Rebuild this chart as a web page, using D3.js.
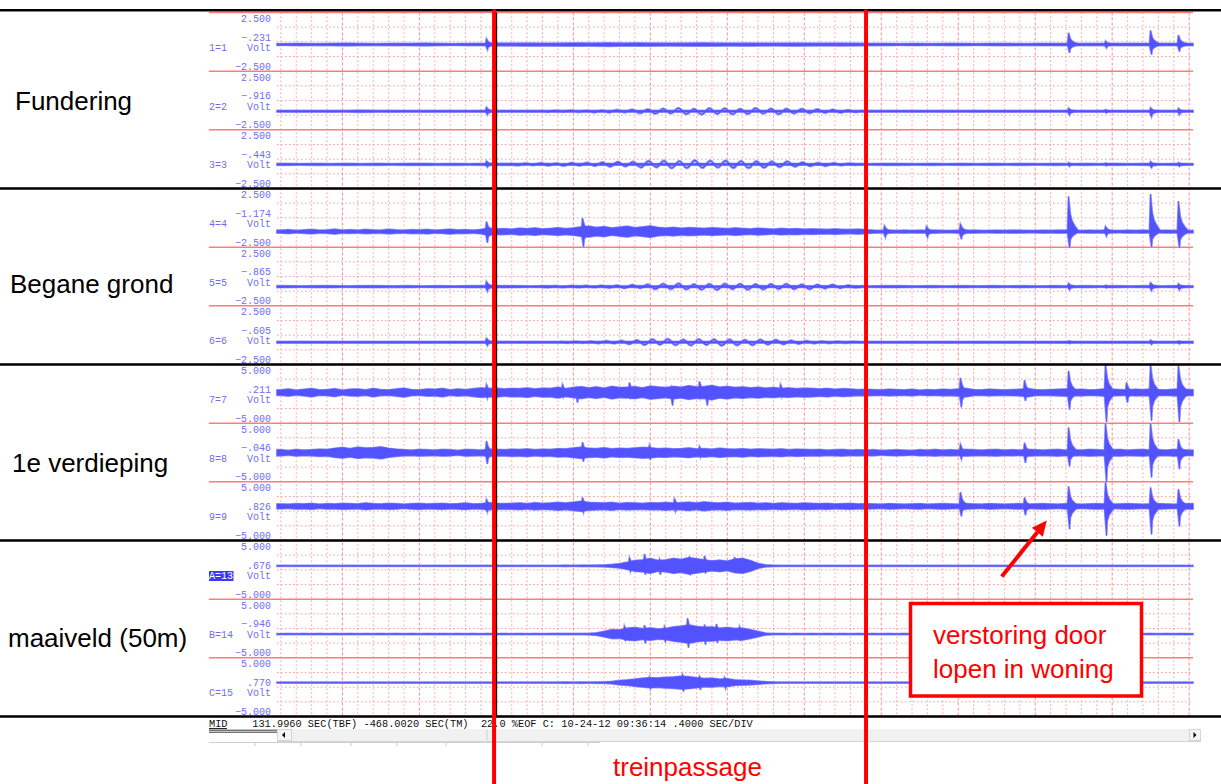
<!DOCTYPE html>
<html>
<head>
<meta charset="utf-8">
<script src="https://cdn.jsdelivr.net/npm/d3@7"></script>
<style>
  body { margin: 0; background: #fff; }
  svg { display: block; }
  .mono { font-family: "Liberation Mono", "DejaVu Sans Mono", monospace; white-space: pre; }
  .sans { font-family: "Liberation Sans", Arial, sans-serif; }
</style>
</head>
<body>
<svg id="chart" width="1221" height="784"></svg>
<script>
// ---- recording layout ----------------------------------------------------
const groupLabels   = ["Fundering", "Begane grond", "1e verdieping", "maaiveld (50m)"];
const channelNames  = ["1=1", "2=2", "3=3", "4=4", "5=5", "6=6", "7=7", "8=8", "9=9", "A=13", "B=14", "C=15"];
const channelMeans  = [-0.231, -0.916, -0.443, -1.174, -0.865, -0.605, 0.211, -0.046, 0.826, 0.676, -0.946, 0.770];
const channelRanges = [2.5, 2.5, 2.5, 2.5, 2.5, 2.5, 5, 5, 5, 5, 5, 5];
const channelGroup  = [0, 0, 0, 1, 1, 1, 2, 2, 2, 3, 3, 3];
const selectedChannel = "A=13";

// time axis (seconds on screen) and grid
const timeSpan = [0, 4.76];
const gridMinorStart = 0.02, gridMinorStep = 0.08, gridMajorEvery = 5, gridMajorPhase = 4;

// train passage window and the recorder cursor
const trainWindow = [1.128, 3.061];
const cursorTime = 1.141;

// ---- trace envelopes: half-width (V) per bin; bin centres at step/2 + k*step ----
const ch1Env = [0.07,0.09,0.07,0.08,0.10,0.08,0.07,0.09,0.08,0.10, 0.08,0.07,0.08,0.09,0.10,0.11,0.12,0.10,0.12,0.13,
                0.12,0.14,0.12,0.13,0.12,0.11,0.12,0.13,0.12,0.11, 0.12,0.11,0.10,0.12,0.11,0.10,0.11,0.10,0.09,0.08,
                0.07,0.08,0.07,0.08,0.08,0.07,0.08,0.09,0.07,0.08, 0.08,0.09,0.08,0.09,0.08,0.09,0.08,0.09,0.08,0.08];
const ch2Env = [0.06,0.07,0.06,0.07,0.06,0.08,0.06,0.07,0.06,0.07, 0.06,0.07,0.06,0.07,0.07,0.06,0.07,0.06,0.07,0.06,
                0.07,0.06,0.07,0.06,0.07,0.06,0.07,0.06,0.07,0.06, 0.07,0.06,0.07,0.06,0.07,0.06,0.07,0.06,0.07,0.06,
                0.06,0.07,0.06,0.07,0.06,0.07,0.06,0.07,0.06,0.07, 0.06,0.07,0.06,0.07,0.06,0.07,0.06,0.07,0.06,0.07];
const ch3Env = [0.07,0.06,0.07,0.06,0.08,0.06,0.07,0.06,0.07,0.08, 0.06,0.07,0.06,0.07,0.08,0.07,0.06,0.07,0.06,0.07,
                0.06,0.07,0.06,0.07,0.06,0.07,0.06,0.07,0.06,0.07, 0.06,0.07,0.06,0.07,0.06,0.07,0.06,0.07,0.06,0.07,
                0.07,0.06,0.07,0.06,0.07,0.06,0.07,0.06,0.07,0.06, 0.07,0.06,0.07,0.06,0.07,0.06,0.07,0.06,0.07,0.06];
const ch4Env = [0.12,0.16,0.10,0.14,0.18,0.11,0.13,0.20,0.12,0.15, 0.11,0.17,0.13,0.12,0.19,0.14,0.11,0.16,0.13,0.18,
                0.12,0.15,0.20,0.13,0.16,0.12,0.18,0.30,0.22,0.25, 0.20,0.28,0.24,0.30,0.22,0.26,0.32,0.25,0.30,0.40,
                0.45,0.35,0.42,0.30,0.38,0.45,0.33,0.40,0.48,0.35, 0.30,0.36,0.28,0.33,0.30,0.26,0.32,0.28,0.25,0.30,
                0.26,0.22,0.28,0.24,0.20,0.26,0.22,0.25,0.20,0.23, 0.21,0.18,0.22,0.19,0.17,0.20,0.16,0.12,0.10,0.11,
                0.10,0.12,0.09,0.11,0.10,0.12,0.10,0.09,0.11,0.10, 0.12,0.10,0.09,0.11,0.10,0.12,0.11,0.10,0.09,0.11,
                0.10,0.12,0.11,0.10,0.09,0.11,0.10,0.12,0.10,0.09, 0.11,0.10,0.12,0.10,0.09,0.11,0.10,0.12,0.10];
const ch5Env = [0.07,0.06,0.07,0.07,0.06,0.07,0.08,0.06,0.07,0.06, 0.07,0.06,0.07,0.08,0.08,0.07,0.06,0.07,0.06,0.07,
                0.06,0.07,0.06,0.07,0.06,0.07,0.06,0.07,0.06,0.07, 0.06,0.07,0.06,0.07,0.06,0.07,0.06,0.07,0.06,0.07,
                0.07,0.06,0.07,0.06,0.07,0.06,0.07,0.06,0.07,0.06, 0.07,0.06,0.07,0.06,0.07,0.06,0.07,0.06,0.07,0.06];
const ch6Env = [0.06,0.07,0.06,0.07,0.06,0.07,0.06,0.07,0.06,0.07, 0.06,0.07,0.06,0.07,0.07,0.06,0.07,0.06,0.07,0.06,
                0.07,0.06,0.07,0.06,0.07,0.06,0.07,0.06,0.07,0.06, 0.07,0.06,0.07,0.06,0.07,0.06,0.07,0.06,0.07,0.06,
                0.06,0.07,0.06,0.07,0.06,0.07,0.06,0.07,0.06,0.07, 0.06,0.07,0.06,0.07,0.06,0.07,0.06,0.07,0.06,0.07];
const ch7Env = [0.45,0.60,0.40,0.55,0.70,0.45,0.50,0.65,0.40,0.55, 0.60,0.45,0.70,0.50,0.45,0.60,0.75,0.50,0.45,0.60,
                0.55,0.70,0.45,0.60,0.50,0.65,0.80,0.70,0.75,0.60, 0.70,0.65,0.80,0.60,0.75,0.70,0.90,0.65,0.85,1.00,
                0.80,0.95,0.75,1.05,0.85,0.90,1.00,0.80,1.10,0.95, 0.85,1.05,0.90,1.15,0.95,1.00,1.20,0.90,1.05,0.85,
                0.95,0.80,0.90,0.75,0.85,0.70,0.80,0.65,0.75,0.70, 0.60,0.70,0.55,0.65,0.60,0.50,0.55,0.50,0.45,0.55,
                0.50,0.45,0.55,0.40,0.50,0.45,0.55,0.50,0.60,0.70, 0.50,0.45,0.55,0.50,0.45,0.50,0.55,0.70,0.50,0.45,
                0.50,0.55,0.60,0.50,0.55,0.45,0.50,0.60,0.55,0.50, 0.45,0.55,0.50,0.60,0.50,0.45,0.55,0.60,0.50];
const ch8Env = [0.50,0.40,0.55,0.45,0.50,0.60,0.55,0.75,0.90,0.70, 0.95,0.80,0.85,1.00,0.75,0.60,0.50,0.45,0.55,0.50,
                0.45,0.55,0.50,0.40,0.55,0.50,0.45,0.60,0.55,0.50, 0.60,0.55,0.65,0.50,0.60,0.55,0.70,0.65,0.80,0.95,
                0.75,0.70,0.85,0.65,0.75,0.70,0.80,0.90,0.85,0.70, 0.75,0.65,0.70,0.80,0.65,0.70,0.60,0.75,0.65,0.60,
                0.70,0.55,0.65,0.60,0.55,0.65,0.50,0.60,0.55,0.50, 0.55,0.45,0.50,0.55,0.45,0.50,0.45,0.50,0.40,0.45,
                0.50,0.45,0.40,0.50,0.45,0.55,0.45,0.50,0.45,0.55, 0.50,0.45,0.50,0.55,0.45,0.50,0.45,0.55,0.50,0.45,
                0.50,0.55,0.45,0.50,0.45,0.55,0.50,0.45,0.50,0.55, 0.45,0.50,0.55,0.45,0.50,0.45,0.55,0.50,0.45];
const ch9Env = [0.40,0.35,0.45,0.40,0.50,0.35,0.45,0.40,0.50,0.45, 0.40,0.55,0.45,0.40,0.50,0.45,0.35,0.45,0.50,0.40,
                0.45,0.50,0.40,0.45,0.55,0.40,0.45,0.60,0.50,0.45, 0.50,0.55,0.45,0.60,0.50,0.55,0.65,0.55,0.70,0.85,
                0.65,0.60,0.55,0.65,0.50,0.60,0.55,0.50,0.60,0.55, 0.65,0.55,0.60,0.70,0.55,0.75,0.60,0.55,0.65,0.50,
                0.55,0.60,0.50,0.55,0.45,0.55,0.50,0.45,0.55,0.50, 0.45,0.50,0.40,0.45,0.50,0.40,0.45,0.40,0.35,0.45,
                0.40,0.35,0.40,0.45,0.35,0.40,0.45,0.40,0.35,0.45, 0.40,0.35,0.45,0.40,0.35,0.40,0.45,0.35,0.40,0.45,
                0.40,0.35,0.45,0.40,0.35,0.40,0.45,0.40,0.35,0.40, 0.45,0.40,0.35,0.40,0.45,0.40,0.35,0.40,0.45];
const ch13Env = [0.07,0.08,0.07,0.08,0.07,0.08,0.07,0.08,0.07,0.08, 0.07,0.08,0.07,0.08,0.07,0.08,0.07,0.08,0.07,0.08,
                 0.07,0.08,0.07,0.08,0.07,0.08,0.07,0.08,0.07,0.08, 0.07,0.08,0.07,0.08,0.07,0.08,0.08,0.09,0.08,0.09,
                 0.09,0.12,0.15,0.22,0.35,0.60,0.90,1.00,1.25,0.90, 1.00,1.25,1.10,1.40,1.20,1.00,0.85,0.95,0.80,1.15,
                 1.25,0.90,0.40,0.15,0.09,0.08,0.07,0.08,0.07,0.08, 0.07,0.08,0.07,0.08,0.07,0.08,0.07,0.08,0.07,0.08,
                 0.07,0.08,0.07,0.08,0.07,0.08,0.07,0.08,0.07,0.08, 0.07,0.08,0.07,0.08,0.07,0.08,0.07,0.08,0.07,0.08,
                 0.07,0.08,0.07,0.08,0.07,0.08,0.07,0.08,0.07,0.08, 0.07,0.08,0.07,0.08,0.07,0.08,0.07,0.08,0.07];
const ch14Env = [0.07,0.08,0.07,0.08,0.07,0.08,0.07,0.08,0.07,0.08, 0.07,0.08,0.07,0.08,0.07,0.08,0.07,0.08,0.07,0.08,
                 0.07,0.08,0.07,0.08,0.07,0.08,0.07,0.08,0.07,0.08, 0.07,0.08,0.07,0.08,0.07,0.08,0.08,0.09,0.08,0.09,
                 0.10,0.20,0.45,0.75,0.70,1.00,1.10,0.90,1.05,0.85, 0.95,1.20,1.35,1.55,1.30,1.15,1.20,1.00,1.10,0.95,
                 1.00,0.75,0.45,0.15,0.09,0.08,0.07,0.08,0.07,0.08, 0.07,0.08,0.07,0.08,0.07,0.08,0.07,0.08,0.07,0.08,
                 0.07,0.08,0.07,0.08,0.07,0.08,0.07,0.08,0.07,0.08, 0.07,0.08,0.07,0.08,0.07,0.08,0.07,0.08,0.07,0.08,
                 0.07,0.08,0.07,0.08,0.07,0.08,0.07,0.08,0.07,0.08, 0.07,0.08,0.07,0.08,0.07,0.08,0.07,0.08,0.07];
const ch15Env = [0.07,0.08,0.07,0.08,0.07,0.08,0.07,0.08,0.07,0.08, 0.07,0.08,0.07,0.08,0.07,0.08,0.07,0.08,0.07,0.08,
                 0.07,0.08,0.07,0.08,0.07,0.08,0.07,0.08,0.07,0.08, 0.07,0.08,0.07,0.08,0.07,0.08,0.08,0.09,0.08,0.09,
                 0.08,0.09,0.10,0.18,0.35,0.45,0.60,0.75,0.85,0.80, 0.90,0.95,1.10,1.00,0.85,0.70,0.75,0.60,0.65,0.45,
                 0.40,0.35,0.25,0.15,0.09,0.08,0.07,0.08,0.07,0.08, 0.07,0.08,0.07,0.08,0.07,0.08,0.07,0.08,0.07,0.08,
                 0.07,0.08,0.07,0.08,0.07,0.08,0.07,0.08,0.07,0.08, 0.07,0.08,0.07,0.08,0.07,0.08,0.07,0.08,0.07,0.08,
                 0.07,0.08,0.07,0.08,0.07,0.08,0.07,0.08,0.07,0.08, 0.07,0.08,0.07,0.08,0.07,0.08,0.07,0.08,0.07];
const envelopes = [ch1Env, ch2Env, ch3Env, ch4Env, ch5Env, ch6Env, ch7Env, ch8Env, ch9Env, ch13Env, ch14Env, ch15Env];

// ---- impulsive events: [time s, peak up V, peak down V] ----
const ch1Spikes  = [[1.091,0.50,0.45],[4.116,1.00,0.70],[4.308,0.30,0.30],[4.542,1.20,0.85],[4.687,0.80,0.60]];
const ch2Spikes  = [[1.091,0.35,0.30],[4.116,0.28,0.34],[4.308,0.15,0.15],[4.542,0.30,0.48],[4.687,0.25,0.30]];
const ch3Spikes  = [[1.091,0.30,0.25],[4.116,0.15,0.18],[4.308,0.12,0.12],[4.542,0.25,0.30],[4.687,0.15,0.18]];
const ch4Spikes  = [[1.091,0.85,0.95],[1.590,1.15,1.30],[3.159,0.50,0.50],[3.378,0.45,0.50],[3.554,0.65,0.65],
                    [4.116,3.00,1.40],[4.308,0.45,0.40],[4.542,3.20,1.30],[4.687,2.60,1.40]];
const ch5Spikes  = [[1.091,0.45,0.40],[4.116,0.30,0.30],[4.308,0.12,0.12],[4.542,0.35,0.35],[4.687,0.25,0.30]];
const ch6Spikes  = [[1.091,0.35,0.30],[4.116,0.12,0.12],[4.542,0.18,0.20],[4.687,0.12,0.15]];
const ch7Spikes  = [[1.091,1.40,1.00],[1.486,1.40,0.80],[1.559,0.90,1.70],[1.834,1.70,0.90],[2.053,1.00,2.20],
                    [2.198,1.90,1.00],[2.234,1.00,2.20],[2.619,1.40,0.80],[3.554,2.50,2.50],[3.887,2.10,1.40],
                    [4.116,3.70,2.90],[4.308,4.80,5.00],[4.417,1.70,1.70],[4.542,4.80,4.80],[4.687,4.60,5.00]];
const ch8Spikes  = [[1.091,2.00,1.90],[1.590,1.80,1.50],[1.938,1.30,1.20],[2.198,1.10,0.80],[3.554,1.45,1.10],
                    [3.887,1.70,1.70],[4.116,4.30,2.30],[4.308,5.00,5.00],[4.542,5.00,4.20],[4.687,2.30,2.80]];
const ch9Spikes  = [[1.091,1.20,1.00],[1.590,1.50,1.10],[2.068,1.30,0.90],[3.554,2.40,1.70],[3.887,1.50,1.50],
                    [4.116,3.40,3.90],[4.308,4.10,5.00],[4.542,3.20,4.80],[4.687,2.90,3.40]];
const ch13Spikes = [[1.834,1.40,1.00],[1.912,2.00,1.50],[1.990,1.20,1.50],[2.146,1.60,1.60],[2.224,1.70,1.30],[2.380,1.50,1.20]];
const ch14Spikes = [[1.808,1.40,1.20],[1.912,1.50,1.60],[2.016,1.30,1.40],[2.136,2.70,2.30],[2.224,1.60,1.80],
                    [2.286,1.70,1.50],[2.406,1.30,1.20]];
const ch15Spikes = [[1.938,1.00,1.10],[2.110,1.40,1.50],[2.198,1.10,1.20],[2.328,0.90,1.00]];
const spikes = [ch1Spikes, ch2Spikes, ch3Spikes, ch4Spikes, ch5Spikes, ch6Spikes,
                ch7Spikes, ch8Spikes, ch9Spikes, ch13Spikes, ch14Spikes, ch15Spikes];

// ---- low-frequency building sway: signed samples (V) every 0.04 s ----
const waveStep = 0.04;
const ch2Wave = [0.04,-0.05,0.06,-0.04,0.07,-0.06,0.05,-0.08,0.07,-0.09,0.10,-0.08,0.13,-0.16,0.15,-0.20,0.22,-0.18,0.26,-0.24,
                 0.20,-0.27,0.25,-0.22,0.24,-0.26,0.20,-0.23,0.26,-0.20,0.22,-0.25,0.21,-0.18,0.20,-0.15,0.16,-0.12,0.13,-0.10,
                 0.09,-0.07,0.05];
const ch3Wave = [0.05,-0.07,0.08,-0.06,0.10,-0.09,0.08,-0.11,0.12,-0.10,0.13,-0.12,0.16,-0.18,0.20,-0.17,0.22,-0.26,0.28,-0.24,
                 0.30,-0.32,0.27,-0.30,0.33,-0.28,0.30,-0.26,0.31,-0.29,0.27,-0.30,0.26,-0.28,0.24,-0.22,0.25,-0.18,0.16,-0.14,
                 0.12,-0.13,0.10,-0.08,0.07,-0.05];
const ch5Wave = [0.04,-0.05,0.05,-0.06,0.06,-0.05,0.07,-0.06,0.08,-0.10,0.09,-0.12,0.14,-0.12,0.18,-0.20,0.24,-0.21,0.26,-0.23,
                 0.20,-0.25,0.22,-0.26,0.24,-0.20,0.23,-0.25,0.21,-0.24,0.22,-0.19,0.23,-0.20,0.18,-0.21,0.17,-0.15,0.16,-0.12,
                 0.10,-0.08,0.06];
const ch6Wave = [0.04,-0.05,0.06,-0.05,0.07,-0.08,0.10,-0.09,0.12,-0.15,0.18,-0.22,0.25,-0.20,0.27,-0.24,0.22,-0.26,0.25,-0.21,
                 0.24,-0.27,0.23,-0.25,0.20,-0.24,0.22,-0.18,0.20,-0.16,0.14,-0.12,0.10,-0.09,0.08,-0.07,0.06,-0.05,0.05,-0.04];
const waves = [
  { channel: 1, start: 1.367, values: ch2Wave },
  { channel: 2, start: 1.211, values: ch3Wave },
  { channel: 4, start: 1.367, values: ch5Wave },
  { channel: 5, start: 1.471, values: ch6Wave }
];

const statusText = "MID    131.9960 SEC(TBF) -468.0020 SEC(TM)  22.0 %EOF C: 10-24-12 09:36:14 .4000 SEC/DIV";
const trainLabel = "treinpassage";
const noteLines = ["verstoring door", "lopen in woning"];
const noteTarget = { channel: 8, time: 4.0, value: -1.6 };

// ---- geometry --------------------------------------------------------------
const W = 1221, H = 784;
const plotLeft = 277, plotRight = 1193;
const frameTop = 12.5, frameBottom = 716.5;
const bandH = (frameBottom - frameTop) / channelNames.length;
const labelLeft = 209, valueRight = 271;
const groupLabelX = [15, 10, 12, 8], groupLabelDy = [9, 16, 19, 18.5];

const TRACE = "#5252ff", HALO = "#a8a8ff", LABEL = "#6e6ef2";
const GRID = "#ff9a9a", SEP = "#ff7c7c", RED = "#ff0000";

const svg = d3.select("#chart");
const x = d3.scaleLinear().domain(timeSpan).range([plotLeft, plotRight]);
const bandTop = i => frameTop + i * bandH;
const yScales = channelRanges.map((r, i) =>
  d3.scaleLinear().domain([-r, r]).range([bandTop(i) + bandH, bandTop(i)]));

// ---- grid ------------------------------------------------------------------
const gridG = svg.append("g");
const nMinor = Math.floor((timeSpan[1] - gridMinorStart) / gridMinorStep) + 1;
const minorTimes = d3.range(nMinor).map(k => ({ t: gridMinorStart + k * gridMinorStep, major: k % gridMajorEvery === gridMajorPhase }));
gridG.selectAll("line.v").data(minorTimes).join("line")
  .attr("x1", d => x(d.t)).attr("x2", d => x(d.t))
  .attr("y1", frameTop).attr("y2", frameBottom)
  .attr("stroke", d => d.major ? "#ff8c8c" : GRID)
  .attr("stroke-width", 1)
  .attr("stroke-dasharray", d => d.major ? "3,2" : "1.5,2.5");

channelRanges.forEach((r, i) => {
  const y = yScales[i];
  [r / 2, 0, -r / 2].forEach(v => {
    gridG.append("line")
      .attr("x1", plotLeft).attr("x2", plotRight)
      .attr("y1", y(v)).attr("y2", y(v))
      .attr("stroke", GRID).attr("stroke-width", 1).attr("stroke-dasharray", "1.5,2.5");
  });
});

// band separators
const sepG = svg.append("g");
d3.range(channelNames.length + 1).forEach(k => {
  const yy = frameTop + k * bandH;
  sepG.append("line")
    .attr("x1", labelLeft).attr("x2", plotRight)
    .attr("y1", yy).attr("y2", yy)
    .attr("stroke", SEP).attr("stroke-width", 1.5);
});

// ---- traces ----------------------------------------------------------------
const haloG = svg.append("g"), traceG = svg.append("g");
const timeLen = timeSpan[1] - timeSpan[0];
channelNames.forEach((name, i) => {
  const y = yScales[i], m = channelMeans[i];
  const env = envelopes[i];
  const step = timeLen / (env.length === 60 ? 59.5 : 119);
  const pts = env.map((a, k) => ({ t: step / 2 + k * step, a }));
  pts.unshift({ t: timeSpan[0], a: env[0] });
  pts.push({ t: timeSpan[1], a: env[env.length - 1] });
  const area = d3.area().x(d => x(d.t)).y0(d => y(m - d.a)).y1(d => y(m + d.a));
  haloG.append("path").attr("d", area(pts))
    .attr("fill", HALO).attr("stroke", HALO).attr("stroke-width", 2);
  traceG.append("path").attr("d", area(pts))
    .attr("fill", TRACE).attr("stroke", TRACE).attr("stroke-width", 0.7);

  // impulsive events: sharp onset, short decaying coda
  spikes[i].forEach(([t, up, dn]) => {
    const xs = x(t);
    const poly = [
      [xs - 1.5, y(m + 0.1 * up)], [xs - 0.5, y(m + up)], [xs + 1.2, y(m + 0.5 * up)],
      [xs + 3, y(m + 0.3 * up)], [xs + 6, y(m + 0.15 * up)], [xs + 10, y(m)],
      [xs + 6, y(m - 0.15 * dn)], [xs + 3, y(m - 0.3 * dn)], [xs + 1.2, y(m - 0.5 * dn)],
      [xs + 0.5, y(m - dn)], [xs - 1.5, y(m - 0.1 * dn)]
    ];
    const d = "M" + poly.map(p => p.join(",")).join("L") + "Z";
    haloG.append("path").attr("d", d).attr("fill", HALO).attr("stroke", HALO).attr("stroke-width", 2);
    traceG.append("path").attr("d", d).attr("fill", TRACE).attr("stroke", TRACE).attr("stroke-width", 0.6);
  });
});

// building sway oscillations
waves.forEach(w => {
  const y = yScales[w.channel], m = channelMeans[w.channel];
  const line = d3.line().x((d, k) => x(w.start + k * waveStep)).y(d => y(m + d)).curve(d3.curveCardinal);
  haloG.append("path").attr("d", line(w.values)).attr("fill", "none")
    .attr("stroke", HALO).attr("stroke-width", 3);
  traceG.append("path").attr("d", line(w.values)).attr("fill", "none")
    .attr("stroke", TRACE).attr("stroke-width", 1.3);
});

// ---- channel labels ----------------------------------------------------------
const fmtRange = v => (v < 0 ? "\u2212" : "") + Math.abs(v).toFixed(3);
const fmtMean = v => (v < 0 ? "\u2212" : "") + Math.abs(v).toFixed(3).replace(/^0/, "");
const labG = svg.append("g").attr("class", "mono").attr("font-size", 10).attr("fill", LABEL);
channelNames.forEach((name, i) => {
  const T = bandTop(i), r = channelRanges[i];
  labG.append("text").attr("x", valueRight).attr("y", T + 9.5).attr("text-anchor", "end").text(fmtRange(r));
  labG.append("text").attr("x", valueRight).attr("y", T + 28).attr("text-anchor", "end").text(fmtMean(channelMeans[i]));
  labG.append("text").attr("x", valueRight).attr("y", T + 38.5).attr("text-anchor", "end").text("Volt");
  labG.append("text").attr("x", valueRight).attr("y", T + 57).attr("text-anchor", "end").text(fmtRange(-r));
  if (name === selectedChannel) {
    labG.append("rect").attr("x", labelLeft).attr("y", T + 30.5).attr("width", name.length * 6 + 0.5).attr("height", 10)
      .attr("fill", "#3b3bf5");
    labG.append("text").attr("x", labelLeft).attr("y", T + 38.5).attr("fill", "#fff").text(name);
  } else {
    labG.append("text").attr("x", labelLeft).attr("y", T + 38.5).text(name);
  }
});

// ---- group separators and names ----------------------------------------------
const groupG = svg.append("g");
groupG.append("line").attr("x1", 0).attr("x2", W).attr("y1", frameTop - 2.2).attr("y2", frameTop - 2.2)
  .attr("stroke", "#000").attr("stroke-width", 2.6);
groupLabels.forEach((g, gi) => {
  const members = channelGroup.map((c, i) => c === gi ? i : -1).filter(i => i >= 0);
  const top = bandTop(members[0]), bottom = bandTop(members[members.length - 1]) + bandH;
  groupG.append("line").attr("x1", 0).attr("x2", W).attr("y1", bottom).attr("y2", bottom)
    .attr("stroke", "#000").attr("stroke-width", 2.6);
  groupG.append("text").attr("class", "sans").attr("x", groupLabelX[gi])
    .attr("y", (top + bottom) / 2 + groupLabelDy[gi]).attr("font-size", 26).attr("fill", "#000").text(g);
});

// ---- status line and scrollbar -------------------------------------------------
const stG = svg.append("g");
stG.append("text").attr("class", "mono").attr("x", labelLeft).attr("y", 727.3)
  .attr("font-size", 10.3).attr("fill", "#111").text(statusText);
stG.append("line").attr("x1", labelLeft).attr("x2", labelLeft + 18).attr("y1", 728.6).attr("y2", 728.6).attr("stroke", "#111");
[730.2, 732.2].forEach(yy => stG.append("line").attr("x1", labelLeft).attr("x2", plotLeft)
  .attr("y1", yy).attr("y2", yy).attr("stroke", "#222").attr("stroke-width", 0.9));
stG.append("rect").attr("x", plotLeft).attr("y", 729).attr("width", 1201 - plotLeft).attr("height", 12)
  .attr("fill", "#f1f1f1");
stG.append("line").attr("x1", plotLeft).attr("x2", 1201).attr("y1", 741.5).attr("y2", 741.5).attr("stroke", "#d4d4d4");
stG.append("rect").attr("x", plotLeft + 0.5).attr("y", 729.5).attr("width", 14).attr("height", 11)
  .attr("fill", "#f4f4f4").attr("stroke", "#d6d6d6");
stG.append("path").attr("d", `M${plotLeft + 5},735 L${plotLeft + 8},732 L${plotLeft + 8},738 Z`).attr("fill", "#000");
stG.append("rect").attr("x", 1189.5).attr("y", 729.5).attr("width", 11).attr("height", 11)
  .attr("fill", "#f4f4f4").attr("stroke", "#d6d6d6");
stG.append("path").attr("d", "M1196.5,735 L1193.5,732 L1193.5,738 Z").attr("fill", "#000");
stG.append("line").attr("x1", 487).attr("x2", 487).attr("y1", 729.5).attr("y2", 740.5).attr("stroke", "#d0d0d0");
[255, 301, 351, 397, 446, 542, 588].forEach(tx => stG.append("line")
  .attr("x1", tx).attr("x2", tx).attr("y1", 742).attr("y2", 746).attr("stroke", "#c8c8c8"));
stG.append("line").attr("x1", labelLeft).attr("x2", 600).attr("y1", 742.5).attr("y2", 742.5).attr("stroke", "#cfcfcf");

// ---- train passage markers -----------------------------------------------------
const mk = svg.append("g");
mk.append("line").attr("x1", x(cursorTime)).attr("x2", x(cursorTime))
  .attr("y1", frameTop).attr("y2", frameBottom).attr("stroke", "#000").attr("stroke-width", 1.2);
trainWindow.forEach(t => mk.append("line").attr("x1", x(t)).attr("x2", x(t))
  .attr("y1", frameTop - 3).attr("y2", H).attr("stroke", RED).attr("stroke-width", 4));
mk.append("text").attr("class", "sans").attr("x", 613).attr("y", 776).attr("font-size", 26)
  .attr("fill", RED).text(trainLabel);

// ---- annotation ----------------------------------------------------------------
const ann = svg.append("g");
const tipX = x(noteTarget.time), tipY = yScales[noteTarget.channel](noteTarget.value);
const tailX = tipX - 45, tailY = tipY + 56;
const ang = Math.atan2(tipY - tailY, tipX - tailX);
const headLen = 15, headW = 7;
const baseX = tipX - headLen * Math.cos(ang), baseY = tipY - headLen * Math.sin(ang);
ann.append("line").attr("x1", tailX).attr("y1", tailY).attr("x2", baseX).attr("y2", baseY)
  .attr("stroke", RED).attr("stroke-width", 4);
ann.append("path").attr("d",
  `M${tipX},${tipY} L${baseX + headW * Math.sin(ang)},${baseY - headW * Math.cos(ang)} L${baseX - headW * Math.sin(ang)},${baseY + headW * Math.cos(ang)} Z`)
  .attr("fill", RED);
ann.append("rect").attr("x", 910.5).attr("y", 603.5).attr("width", 231).attr("height", 92.5)
  .attr("fill", "#fff").attr("stroke", RED).attr("stroke-width", 3.5);
noteLines.forEach((s, k) => ann.append("text").attr("class", "sans")
  .attr("x", 933).attr("y", 644 + k * 34).attr("font-size", 26).attr("fill", RED).text(s));
</script>
</body>
</html>
